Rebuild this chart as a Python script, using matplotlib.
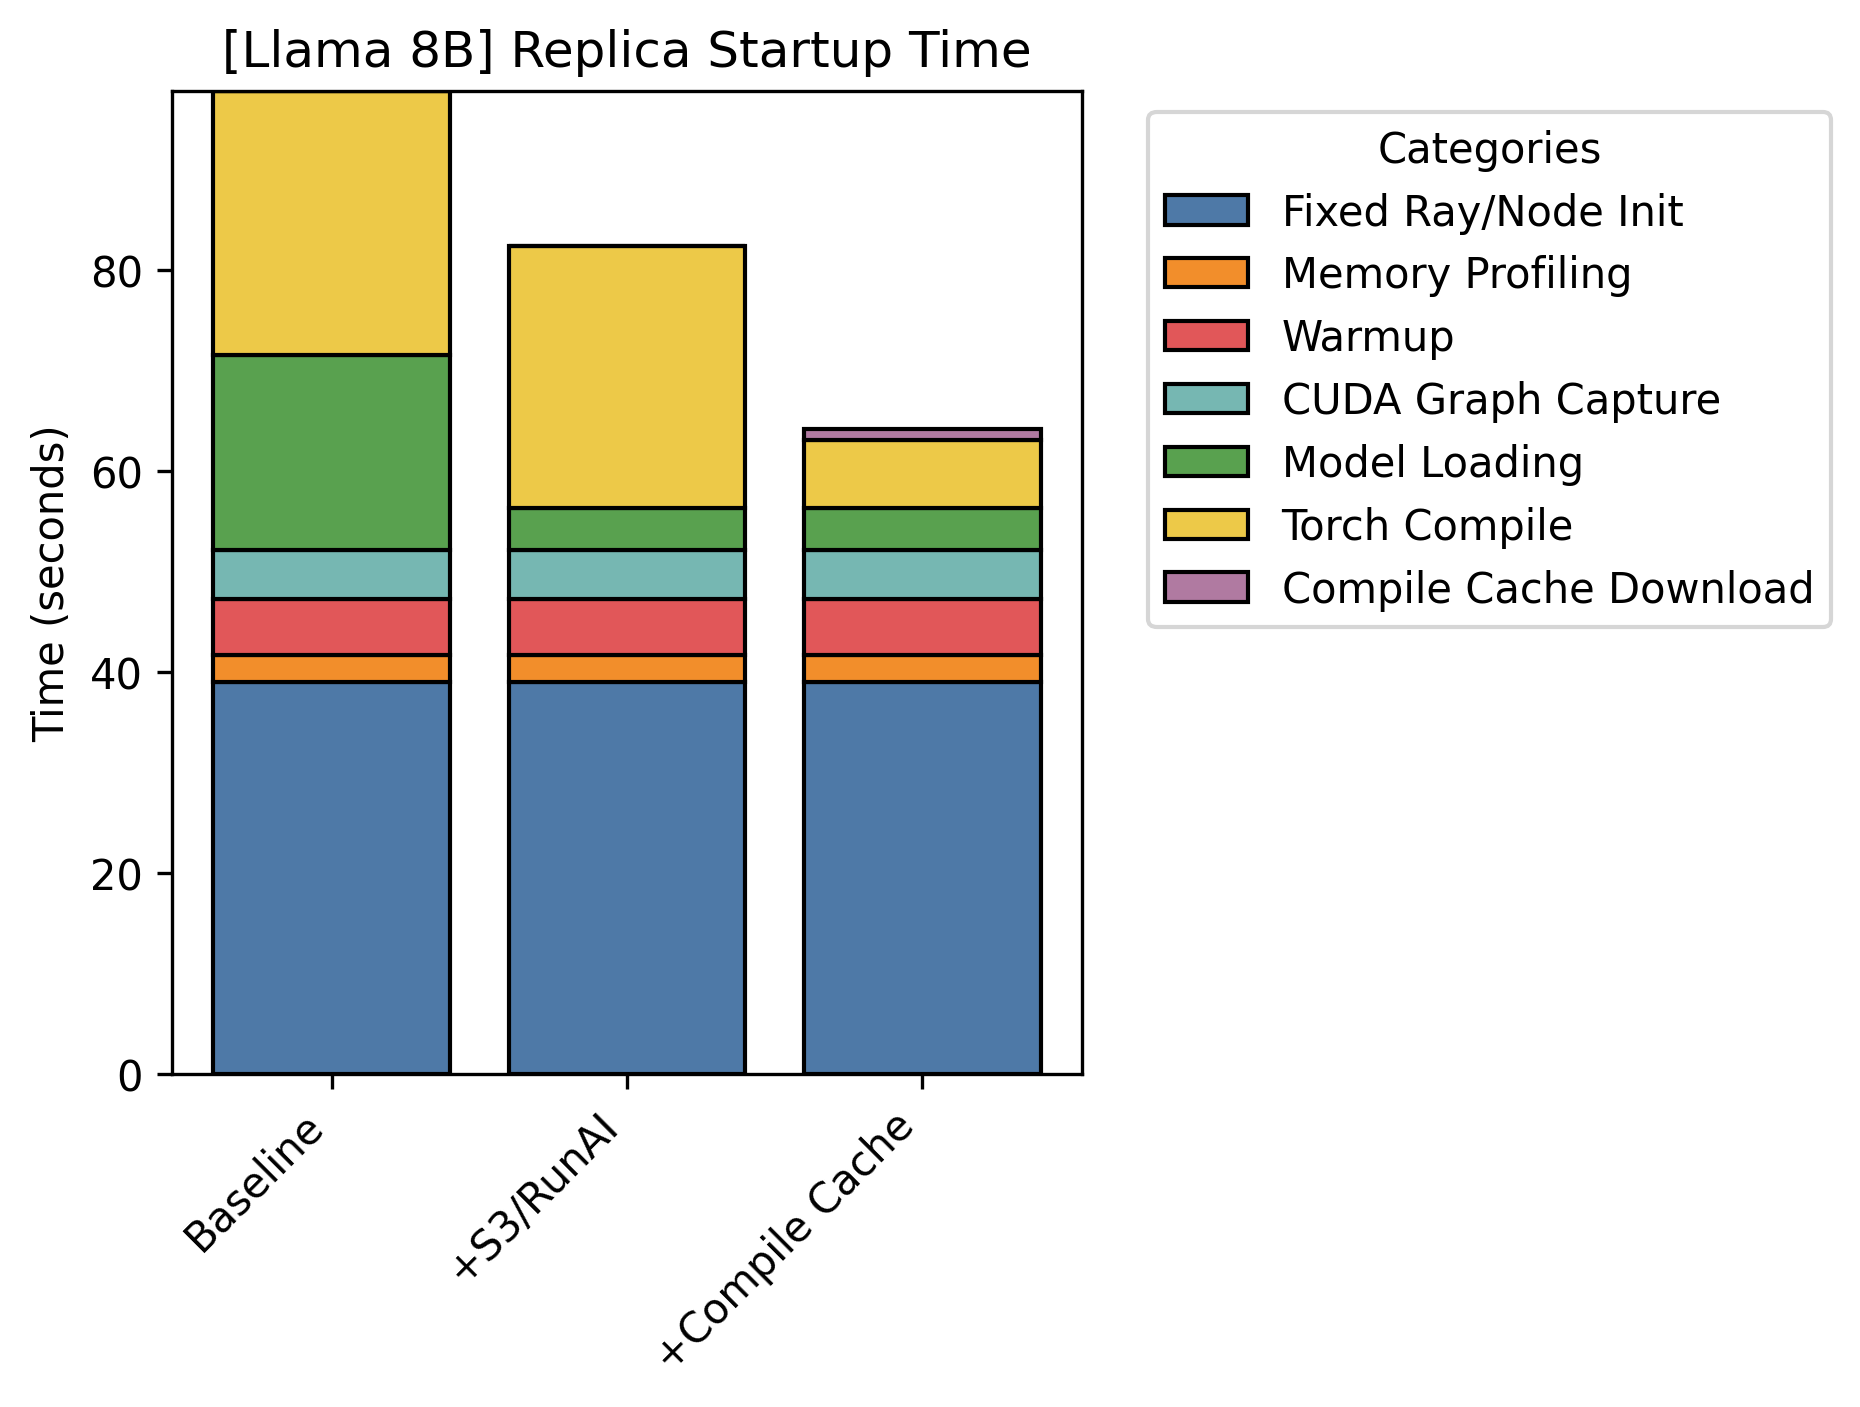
import numpy as np
import matplotlib
matplotlib.use("Agg")
import matplotlib.pyplot as plt

# ─── data ───────────────────────────────────────────────
configs = ["Baseline", "+S3/RunAI", "+Compile Cache"]
categories = ["Fixed Ray/Node Init", "Memory Profiling", "Warmup",
              "CUDA Graph Capture", "Model Loading", "Torch Compile",
              "Compile Cache Download"]

fixed_init = [39.0, 39.0, 39.0]
memory_profiling = [2.7, 2.7, 2.7]
warmup = [5.55, 5.55, 5.55]
cuda_graph = [4.95, 4.95, 4.95]
model_loading = [19.4, 4.15, 4.15]
torch_compile = [26.2, 26.1, 6.7]
cache_download = [0.0, 0.0, 1.1]

colors = ["#4e79a7", "#f28e2b", "#e15759", "#76b7b2",
          "#59a14f", "#edc948", "#b07aa1"]

# ─── plot ───────────────────────────────────────────────
series = [fixed_init, memory_profiling, warmup, cuda_graph,
          model_loading, torch_compile, cache_download]

fig = plt.figure(figsize=(6.2, 4.693), dpi=300)
ax = fig.add_axes([0.0925, 0.2365, 0.4892, 0.6980])

x = np.arange(len(configs))
bottom = np.zeros(len(configs))
for name, vals, c in zip(categories, series, colors):
    vals = np.array(vals)
    ax.bar(x, vals, 0.8, bottom=bottom, color=c, edgecolor="black",
           linewidth=1.0, label=name)
    bottom += vals

ax.set_ylim(0, bottom.max())
ax.set_xticks(x)
ax.set_xticklabels(configs, rotation=45, ha="right")
ax.set_ylabel("Time (seconds)")
ax.set_title("[Llama 8B] Replica Startup Time")
ax.legend(title="Categories", bbox_to_anchor=(1.05, 1), loc="upper left")

fig.savefig("out.png", dpi=300)
